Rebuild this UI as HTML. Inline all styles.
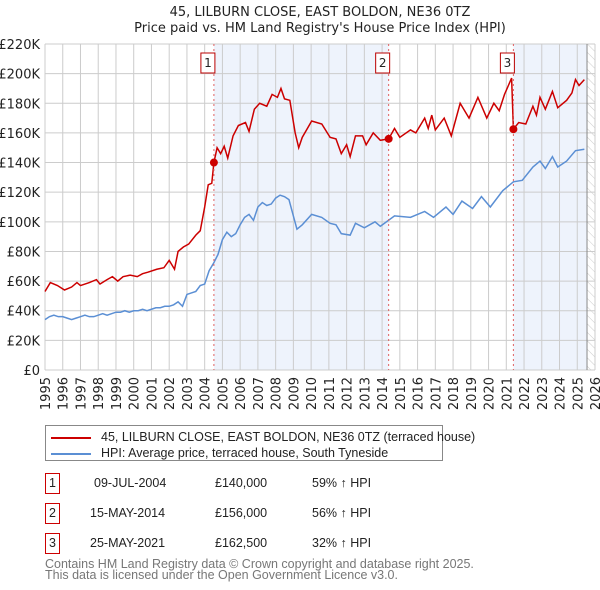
<!DOCTYPE html>
<html><head><meta charset="utf-8"><style>
body{margin:0;background:#fff;font-family:"Liberation Sans","DejaVu Sans",sans-serif;}
#wrap{position:relative;width:600px;height:590px;overflow:hidden}
</style></head><body>
<div id="wrap">
<svg id="chart" width="600" height="590" xmlns="http://www.w3.org/2000/svg" font-family="DejaVu Sans, Liberation Sans, sans-serif">
<defs><pattern id="hatch" width="6" height="6" patternUnits="userSpaceOnUse" patternTransform="rotate(-45)"><line x1="0" y1="0" x2="0" y2="6" stroke="#ccc" stroke-width="1"/></pattern></defs>
<text x="320" y="16" text-anchor="middle" font-size="13" fill="#222">45, LILBURN CLOSE, EAST BOLDON, NE36 0TZ</text>
<text x="320" y="32" text-anchor="middle" font-size="13" fill="#222">Price paid vs. HM Land Registry's House Price Index (HPI)</text>
<g id="bg"></g><g id="grid"></g><g id="lines"></g><g id="marks"></g><g id="axes"></g>
</svg>
<div style="position:absolute;left:45px;top:425px;width:396px;height:34px;border:1px solid #888;font-size:12.5px;color:#222">
<div style="position:absolute;left:5px;top:4px;white-space:nowrap"><span style="display:inline-block;width:40px;height:2px;background:#cc0000;vertical-align:middle;margin-right:10px"></span>45, LILBURN CLOSE, EAST BOLDON, NE36 0TZ (terraced house)</div>
<div style="position:absolute;left:5px;top:20px;white-space:nowrap"><span style="display:inline-block;width:40px;height:2px;background:#5b8fd4;vertical-align:middle;margin-right:10px"></span>HPI: Average price, terraced house, South Tyneside</div>
</div>
<div id="table" style="font-size:12.5px;color:#222"></div>
<div style="position:absolute;left:45px;top:559px;font-size:12.5px;color:#777;line-height:11px">Contains HM Land Registry data © Crown copyright and database right 2025.<br>This data is licensed under the Open Government Licence v3.0.</div>
</div>
<script>
const hpiYears=[1995,1995.25,1995.5,1995.75,1996,1996.25,1996.5,1996.75,1997,1997.25,1997.5,1997.75,1998,1998.25,1998.5,1998.75,1999,1999.25,1999.5,1999.75,2000,2000.25,2000.5,2000.75,2001,2001.25,2001.5,2001.75,2002,2002.25,2002.5,2002.75,2003,2003.25,2003.5,2003.75,2004,2004.25,2004.5,2004.75,2005,2005.25,2005.5,2005.75,2006,2006.25,2006.5,2006.75,2007,2007.25,2007.5,2007.75,2008,2008.25,2008.5,2008.75,2009.2,2009.5,2010.03,2010.6,2011.07,2011.4,2011.7,2012.2,2012.5,2013,2013.6,2013.9,2014.7,2015.6,2016.4,2016.9,2017.6,2018,2018.5,2019.1,2019.6,2020.1,2020.8,2021.4,2021.9,2022.5,2022.9,2023.2,2023.6,2023.9,2024.4,2024.9,2025.4];
const hpiValues=[34,36,37,36,36,35,34,35,36,37,36,36,37,38,37,38,39,39,40,39,40,40,41,40,41,42,42,43,43,44,46,43,51,52,53,57,58,67,72,78,88,93,90,92,98,103,105,101,110,113,111,112,116,118,117,115,95,98,105,103,99,98,92,91,99,96,100,97,104,103,107,103,110,105,114,109,117,110,121,127,128,137,141,136,144,137,141,148,149];
const priceYears=[1995,1995.3,1995.7,1996.1,1996.5,1996.8,1997,1997.5,1997.9,1998.1,1998.5,1998.8,1999.1,1999.4,1999.8,2000.2,2000.5,2000.8,2001.3,2001.7,2002,2002.3,2002.5,2002.8,2003.1,2003.5,2003.75,2004,2004.2,2004.4,2004.52,2004.7,2004.9,2005.1,2005.3,2005.6,2005.9,2006.3,2006.5,2006.8,2007.1,2007.5,2007.8,2008.1,2008.3,2008.5,2008.8,2009.1,2009.3,2009.5,2010.03,2010.6,2011.07,2011.4,2011.7,2012,2012.2,2012.5,2012.9,2013.1,2013.5,2013.9,2014.37,2014.7,2015,2015.6,2015.9,2016.4,2016.6,2016.8,2017,2017.5,2017.9,2018.4,2018.9,2019.4,2019.9,2020.3,2020.6,2020.9,2021.3,2021.4,2021.7,2022.1,2022.5,2022.7,2022.9,2023.2,2023.6,2023.9,2024.4,2024.7,2024.9,2025.1,2025.4];
const priceValues=[53,59,57,54,56,59,57,59,61,58,61,63,60,63,64,63,65,66,68,69,74,68,80,83,85,91,94,110,125,126,140,150,146,151,143,158,165,167,161,176,180,178,186,184,190,183,182,160,150,157,168,166,157,156,146,152,144,158,158,152,160,155,156,163,157,162,160,170,163,172,162,170,158,180,170,184,170,180,175,186,197,162.5,167,166,178,172,184,176,188,177,182,187,196,192,196];
const saleYears=[2004.52,2014.37,2021.4];
const saleValues=[140,156,162.5];
const saleLabels=["1","2","3"];
const saleDates=["09-JUL-2004","15-MAY-2014","25-MAY-2021"];
const salePrices=["£140,000","£156,000","£162,500"];
const saleDiffs=["59% ↑ HPI","56% ↑ HPI","32% ↑ HPI"];
const yTicks=[0,20,40,60,80,100,120,140,160,180,200,220];
const yTickLabels=["£0","£20K","£40K","£60K","£80K","£100K","£120K","£140K","£160K","£180K","£200K","£220K"];
const xTicks=[1995,1996,1997,1998,1999,2000,2001,2002,2003,2004,2005,2006,2007,2008,2009,2010,2011,2012,2013,2014,2015,2016,2017,2018,2019,2020,2021,2022,2023,2024,2025,2026];
const dataEnd=2025.55;

const NS="http://www.w3.org/2000/svg";
const L=45,R=595,T=44,B=370;
const xs=y=>L+(y-1995)/(2026-1995)*(R-L);
const ys=v=>B-v/220*(B-T);
function mk(tag,attrs,parent){const e=document.createElementNS(NS,tag);for(const k in attrs)e.setAttribute(k,attrs[k]);document.getElementById(parent).appendChild(e);return e;}

let e;
e=mk('rect',{x:xs(saleYears[0]),y:T,width:xs(saleYears[1])-xs(saleYears[0]),height:B-T,fill:'#eef3fc'},'bg');


e=mk('rect',{x:xs(saleYears[2]),y:T,width:xs(dataEnd)-xs(saleYears[2]),height:B-T,fill:'#eef3fc'},'bg');


e=mk('rect',{x:xs(dataEnd),y:T,width:R-xs(dataEnd),height:B-T,fill:'url(#hatch)'},'bg');



yTicks.forEach((v,i)=>{
  e=mk('line',{x1:L,x2:R,y1:ys(v),y2:ys(v),stroke:'#ccc','stroke-width':1},'grid');
  
  
  e=mk('text',{x:L-5,y:ys(v)+5,'text-anchor':'end','font-size':13,fill:'#222'},'axes');
  e.textContent=yTickLabels[i];
  
  
});
xTicks.forEach(t=>{
  e=mk('line',{x1:xs(t),x2:xs(t),y1:T,y2:B,stroke:'#ccc','stroke-width':1},'grid');
  
  
  e=mk('text',{x:0,y:0,'text-anchor':'end','font-size':13,fill:'#222',transform:`translate(${xs(t)+5},${B+7}) rotate(-90)`},'axes');
  e.textContent=String(t);
  
  
});
e=mk('line',{x1:xs(dataEnd),x2:xs(dataEnd),y1:T,y2:B,stroke:'#888','stroke-width':1},'grid');



e=mk('polyline',{points:hpiYears.map((y,i)=>xs(y)+','+ys(hpiValues[i])).join(' '),fill:'none',stroke:'#5b8fd4','stroke-width':1.5},'lines');


e=mk('polyline',{points:priceYears.map((y,i)=>xs(y)+','+ys(priceValues[i])).join(' '),fill:'none',stroke:'#cc0000','stroke-width':1.5},'lines');



saleYears.forEach((y,i)=>{
  e=mk('line',{x1:xs(y),x2:xs(y),y1:T,y2:B,stroke:'#e06060','stroke-width':1,'stroke-dasharray':'2,3'},'marks');
  
  
  e=mk('circle',{cx:xs(y),cy:ys(saleValues[i]),r:4,fill:'#cc0000'},'marks');
  
  
  e=mk('rect',{x:xs(y)-13,y:53,width:14,height:20,fill:'#fff',stroke:'#b00','stroke-width':1},'marks');
  
  
  e=mk('text',{x:xs(y)-6,y:67,'text-anchor':'middle','font-size':12,fill:'#222'},'marks');
  e.textContent=saleLabels[i];
  
  
});

const tb=document.getElementById('table');
saleLabels.forEach((s,i)=>{
  const top=473+i*30;
  const row=document.createElement('div');
  
  
  row.style.cssText=`position:absolute;left:0;top:${top}px;width:600px;height:21px`;
  row.innerHTML=`<div style="position:absolute;left:45px;top:0;width:13px;height:19px;border:1px solid #c00;text-align:center;line-height:19px">${s}</div>
  <div style="position:absolute;left:${i==0?94:90}px;top:3px">${saleDates[i]}</div>
  <div style="position:absolute;left:215px;top:3px">${salePrices[i]}</div>
  <div style="position:absolute;left:312px;top:3px">${saleDiffs[i]}</div>`;
  tb.appendChild(row);
});
</script>
</body></html>
